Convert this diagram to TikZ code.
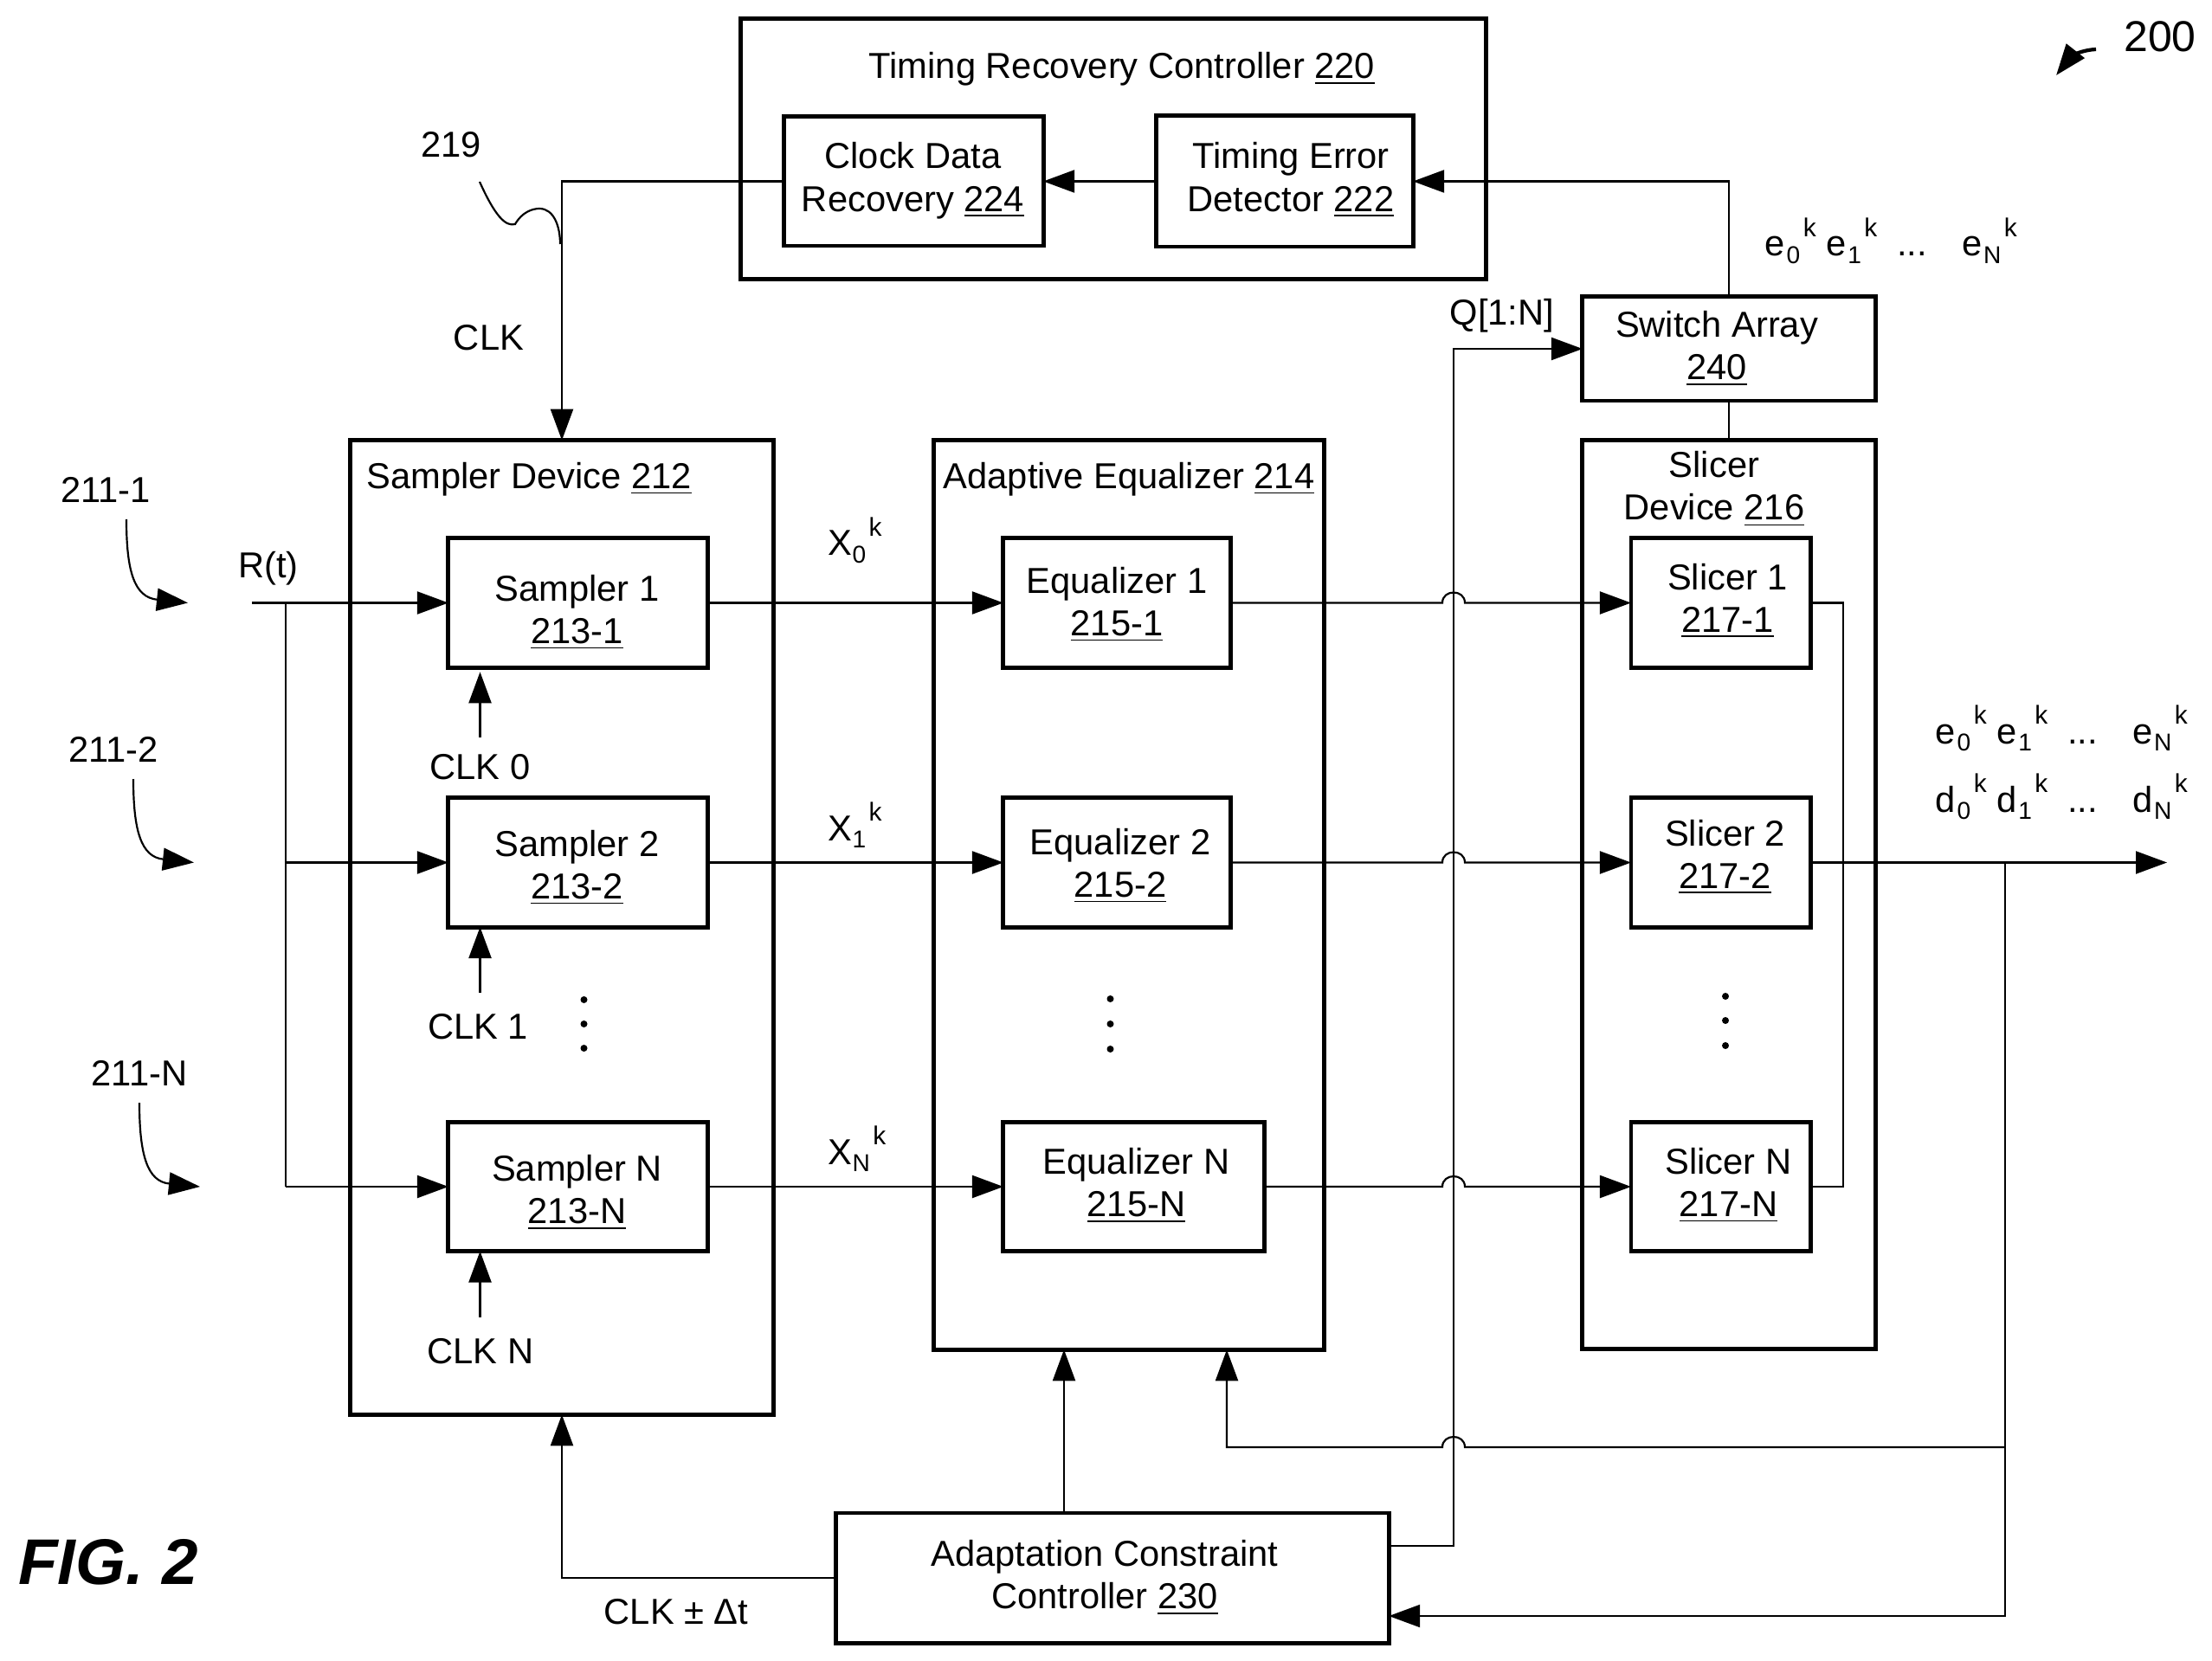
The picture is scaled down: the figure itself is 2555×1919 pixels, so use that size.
\documentclass[tikz,border=0pt]{standalone}
\usepackage{fontspec}
\setmainfont{Liberation Sans}
\usetikzlibrary{arrows.meta}

\newlength{\pxu}
\setlength{\pxu}{0.01cm}
% block text, moved off the centre of its block
\newcommand{\boxtext}[3]{\makebox[0pt]{\hspace*{#1\pxu}\hspace*{#1\pxu}\smash{\raisebox{\dimexpr-4.5pt-#2\pxu\relax}{\begin{tabular}{@{}c@{}}#3\end{tabular}}}}}
\newcommand{\subk}[2]{#1\kern.5pt\raisebox{-2.3pt}{\fontsize{8}{8}\selectfont #2}\kern1pt\raisebox{6.5pt}{\fontsize{8.5}{8.5}\selectfont k}}

\begin{document}
\begin{tikzpicture}[
    x=0.01cm, y=-0.01cm,
    font=\fontsize{11.85}{14}\selectfont,
    >={Triangle[length=3.6mm,width=2.6mm]},
    blockbox/.style={rectangle, draw=black, line width=1.4pt, inner sep=0pt, outer sep=0pt},
    smpbox/.style={blockbox, minimum width=2.99cm, minimum height=1.49cm},
    eqbox/.style={blockbox, minimum width=2.62cm, minimum height=1.49cm},
    slcbox/.style={blockbox, minimum width=2.07cm, minimum height=1.49cm},
    tag/.style={inner sep=0pt, align=center},
    rowtag/.style={inner sep=0pt, anchor=base west},
    sig/.style={line width=0.62pt}
    ]
    \useasboundingbox (0,0) rectangle (2555,1919);

    % timing recovery
    \node (tmr) [blockbox, minimum width=8.6cm, minimum height=3cm] at (1286,172) {};
    \node (tmrtitle) [tag] at (1296,80) {Timing Recovery Controller \underline{220}};
    \node (cdr) [smpbox] at (1055.5,209.5) {\boxtext{-1}{-5}{Clock Data\\Recovery \underline{224}}};
    \node (ted) [blockbox, minimum width=2.96cm, minimum height=1.51cm] at (1484,209.5) {\boxtext{7}{-5}{Timing Error\\Detector \underline{222}}};
    \node (sw) [blockbox, minimum width=3.38cm, minimum height=1.2cm] at (1997,403) {\boxtext{-14}{-4}{Switch Array\\\underline{240}}};

    % sampler device
    \node (smpdev) [blockbox, minimum width=4.88cm, minimum height=11.25cm] at (649,1071.5) {};
    \node (smptitle) [tag] at (611,554) {Sampler Device \underline{212}};
    \node (smp1) [smpbox] at (667.5,696.5) {\boxtext{-1}{7}{Sampler 1\\\underline{213-1}}};
    \node (smp2) [smpbox] at (667.5,996.5) {\boxtext{-1}{2}{Sampler 2\\\underline{213-2}}};
    \node (smpN) [smpbox] at (667.5,1371) {\boxtext{-1}{3}{Sampler N\\\underline{213-N}}};

    % equalizer
    \node (eqdev) [blockbox, minimum width=4.5cm, minimum height=10.5cm] at (1304,1034) {};
    \node (eqtitle) [tag] at (1304,554) {Adaptive Equalizer \underline{214}};
    \node (eq1) [eqbox] at (1290,696.5) {\boxtext{0}{-2}{Equalizer 1\\\underline{215-1}}};
    \node (eq2) [eqbox] at (1290,996.5) {\boxtext{4}{0}{Equalizer 2\\\underline{215-2}}};
    \node (eqN) [eqbox, minimum width=3.01cm] at (1309.5,1371) {\boxtext{3}{-5}{Equalizer N\\\underline{215-N}}};

    % slicer
    \node (slcdev) [blockbox, minimum width=3.38cm, minimum height=10.49cm] at (1997,1033.5) {};
    \node (slctitle) [tag] at (1980,565) {Slicer\\Device \underline{216}};
    \node (slc1) [slcbox] at (1987.5,696.5) {\boxtext{8}{-6}{Slicer 1\\\underline{217-1}}};
    \node (slc2) [slcbox] at (1987.5,996.5) {\boxtext{5}{-10}{Slicer 2\\\underline{217-2}}};
    \node (slcN) [slcbox] at (1987.5,1371) {\boxtext{9}{-5}{Slicer N\\\underline{217-N}}};

    % adaptation
    \node (acc) [blockbox, minimum width=6.38cm, minimum height=1.5cm] at (1285,1823) {\boxtext{-9}{-4}{Adaptation Constraint\\Controller \underline{230}}};

    % free ends and bus positions
    \coordinate (rin) at (291,696.5);
    \coordinate (rbus) at (330,0);
    \coordinate (qbus) at (1679,0);
    \coordinate (qtap) at (0,1786);
    \coordinate (adj) at (1229,0);
    \coordinate (fb) at (1417,0);
    \coordinate (fbline) at (0,1672);
    \coordinate (acctap) at (0,1867);
    \coordinate (bus) at (2129,0);
    \coordinate (fbk) at (2316,996.5);
    \coordinate (dtip) at (2503,996.5);
    \coordinate (clkA) at (554.5,852);
    \coordinate (clkB) at (554.5,1146.5);
    \coordinate (clkC) at (554.5,1522);

    % clock path
    \draw[sig,->] (ted.west) -- (cdr.east);
    \draw[sig,->] (cdr.west) -- (cdr.west -| smpdev.north) -- (smpdev.north);
    \draw[sig,->] (sw.north) -- (sw.north |- ted.east) -- (ted.east);
    \draw[sig] (sw.south) -- (slcdev.north);
    \draw[sig,->] (clkA) -- ([yshift=-1.5pt]clkA |- smp1.south);
    \draw[sig,->] (clkB) -- (clkB |- smp2.south);
    \draw[sig,->] (clkC) -- (clkC |- smpN.south);

    % inputs
    \draw[sig,->] (rin) -- (smp1.west);
    \draw[sig] (rbus |- rin) -- (rbus |- smpN.west);
    \draw[sig,->] (rbus |- smp2.west) -- (smp2.west);
    \draw[sig,->] (rbus |- smpN.west) -- (smpN.west);

    % sampler to equalizer to slicer
    \draw[sig,->] (smp1.east) -- (eq1.west);
    \draw[sig,->] (smp2.east) -- (eq2.west);
    \draw[sig,->] (smpN.east) -- (eqN.west);
    \draw[sig,->] (eq1.east) -- (1666,696.5) .. controls (1666,680.5) and (1692,680.5) .. (1692,696.5) -- (slc1.west);
    \draw[sig,->] (eq2.east) -- (1666,996.5) .. controls (1666,980.5) and (1692,980.5) .. (1692,996.5) -- (slc2.west);
    \draw[sig,->] (eqN.east) -- (1666,1371) .. controls (1666,1355) and (1692,1355) .. (1692,1371) -- (slcN.west);

    % outputs
    \draw[sig] (slc1.east) -- (slc1.east -| bus) -- (slcN.east -| bus) -- (slcN.east);
    \draw[sig,->] (slc2.east) -- (dtip);
    \draw[sig,->] (fbk) -- (fbk |- acctap) -- (acc.east |- acctap);
    \draw[sig,->] (fbk |- fbline) -- (1692,1672) .. controls (1692,1656) and (1666,1656) .. (1666,1672) -- (fb |- fbline) -- (fb |- eqdev.south);

    % adaptation outputs
    \draw[sig,->] (acc.west) -- (acc.west -| smpdev.south) -- (smpdev.south);
    \draw[sig,->] (adj |- acc.north) -- (adj |- eqdev.south);
    \draw[sig,->] (acc.east |- qtap) -- (qbus |- qtap) -- (qbus |- sw.west) -- (sw.west);

    % labels
    \node (fignum) [font=\fontsize{14.2}{14}\selectfont, tag] at (2495,42) {200};
    \node (lead) [tag] at (521,167) {219};
    \node (clk) [tag] at (564.5,390) {CLK};
    \node (qlbl) [tag] at (1735,365) {Q[1:N]};
    \node (rlbl) [tag] at (310,657) {R(t)};
    \node (in1) [tag] at (122,566) {211-1};
    \node (in2) [tag] at (131,866) {211-2};
    \node (inN) [tag] at (161,1240) {211-N};
    \node (clk0) [tag] at (554.5,886) {CLK 0};
    \node (clk1) [tag] at (552,1186) {CLK 1};
    \node (clkN) [tag] at (555,1561) {CLK N};
    \node (clkdt) [tag] at (781,1862) {CLK ± Δt};
    \node (fig) [font=\fontsize{21.2}{22}\selectfont\bfseries\itshape, tag] at (125,1805) {FIG. 2};

    \node (x0) [rowtag] at (956,642) {\subk{X\kern-.5pt}{0}};
    \node (x1) [rowtag] at (956,971) {\subk{X\kern-.5pt}{1}};
    \node (xN) [rowtag] at (956,1345) {\subk{X\kern-.5pt}{N}};
    \node (eup) [rowtag] at (2038,296) {\subk{e}{0}\kern3.3pt\subk{e}{1}\kern6.5pt...\kern11.4pt\subk{e}{N}};
    \node (eout) [rowtag] at (2235,859) {\subk{e}{0}\kern3.3pt\subk{e}{1}\kern6.5pt...\kern11.4pt\subk{e}{N}};
    \node (dout) [rowtag] at (2235,938) {\subk{d}{0}\kern3.3pt\subk{d}{1}\kern6.5pt...\kern11.4pt\subk{d}{N}};

    % leaders
    \draw[line width=1.2pt,->] (2421,57) .. controls (2400,58) and (2390,68) .. (2375,87);
    \draw[sig] (554,210) .. controls (572,250) and (584,262) .. (595,259) .. controls (603,245) and (615,241) .. (623,241) .. controls (640,241) and (647,262) .. (647,282);
    \draw[sig,->] (146,600) .. controls (146,660) and (155,690) .. (217,696.5);
    \draw[sig,->] (154,900) .. controls (154,960) and (163,990) .. (224,996.5);
    \draw[sig,->] (161,1274) .. controls (161,1334) and (170,1365) .. (231,1371);

    % dots
    \fill (674.5,1155) circle (4) (674.5,1183) circle (4) (674.5,1211) circle (4);
    \fill (1282.5,1154) circle (4) (1282.5,1183) circle (4) (1282.5,1212) circle (4);
    \fill (1993,1151) circle (4) (1993,1179) circle (4) (1993,1208) circle (4);
\end{tikzpicture}
\end{document}
